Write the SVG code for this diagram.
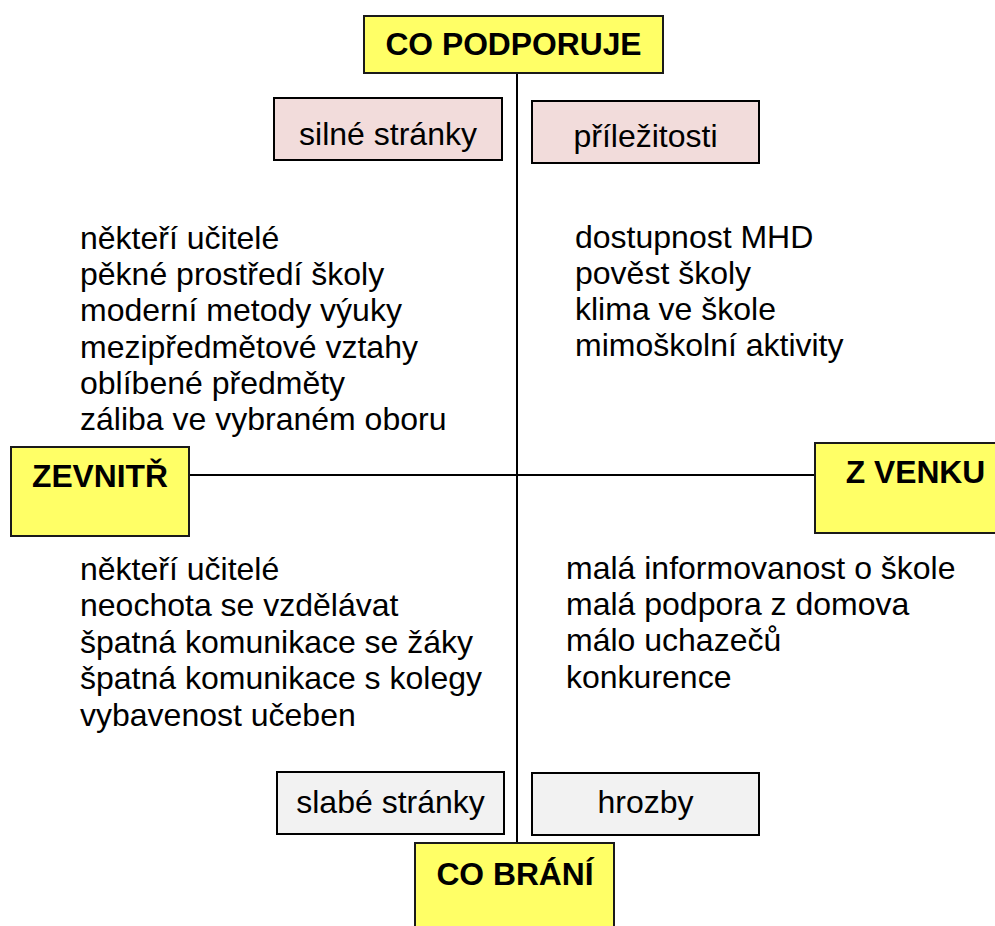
<svg xmlns="http://www.w3.org/2000/svg" width="995" height="926" viewBox="0 0 995 926">
  <style>
    .axis { stroke: #000; stroke-width: 2; fill: none; }
    .head rect { fill: #FFFF66; stroke: #1a1a1a; stroke-width: 2; }
    .head text { font-family: "Liberation Sans", Arial, sans-serif; font-weight: bold; font-size: 31.8px; fill: #000; text-anchor: middle; }
    .pos rect { fill: #F2DCDB; stroke: #000; stroke-width: 2; }
    .neg rect { fill: #F2F2F2; stroke: #000; stroke-width: 2; }
    .tag text { font-family: "Liberation Sans", Arial, sans-serif; font-size: 32px; fill: #000; text-anchor: middle; }
    .list text { font-family: "Liberation Sans", Arial, sans-serif; font-size: 32px; fill: #000; }
  </style>
  <rect width="995" height="926" fill="#fff"/>

  <!-- axes -->
  <g id="connectors">
    <line class="axis" x1="517" y1="73" x2="517" y2="843"/>
    <line class="axis" x1="189" y1="475" x2="815" y2="475"/>
  </g>

  <!-- axis headings -->
  <g id="co-podporuje" class="head">
    <rect x="364" y="16" width="299" height="57"/>
    <text x="513.5" y="55">CO PODPORUJE</text>
  </g>
  <g id="zevnitr" class="head">
    <rect x="11" y="447" width="178" height="89"/>
    <text x="100" y="487">ZEVNITŘ</text>
  </g>
  <g id="z-venku" class="head">
    <rect x="815" y="443" width="200" height="90"/>
    <text x="915.5" y="483">Z VENKU</text>
  </g>
  <g id="co-brani" class="head">
    <rect x="415" y="843" width="199" height="100"/>
    <text x="515" y="885">CO BRÁNÍ</text>
  </g>

  <!-- quadrant labels -->
  <g id="silne-stranky" class="tag pos">
    <rect x="274" y="98" width="228" height="62"/>
    <text x="388" y="145">silné stránky</text>
  </g>
  <g id="prilezitosti" class="tag pos">
    <rect x="532" y="101" width="227" height="62"/>
    <text x="645.5" y="147">příležitosti</text>
  </g>
  <g id="slabe-stranky" class="tag neg">
    <rect x="277" y="772" width="227" height="62"/>
    <text x="390.5" y="813">slabé stránky</text>
  </g>
  <g id="hrozby" class="tag neg">
    <rect x="532" y="773" width="227" height="62"/>
    <text x="645.5" y="813">hrozby</text>
  </g>

  <!-- quadrant contents -->
  <g id="strengths-list" class="list">
    <text x="80" y="249">někteří učitelé</text>
    <text x="80" y="285">pěkné prostředí školy</text>
    <text x="80" y="321">moderní metody výuky</text>
    <text x="80" y="358">mezipředmětové vztahy</text>
    <text x="80" y="394">oblíbené předměty</text>
    <text x="80" y="430">záliba ve vybraném oboru</text>
  </g>
  <g id="opportunities-list" class="list">
    <text x="575" y="248">dostupnost MHD</text>
    <text x="575" y="284">pověst školy</text>
    <text x="575" y="320">klima ve škole</text>
    <text x="575" y="356">mimoškolní aktivity</text>
  </g>
  <g id="weaknesses-list" class="list">
    <text x="80" y="580">někteří učitelé</text>
    <text x="80" y="616">neochota se vzdělávat</text>
    <text x="80" y="653">špatná komunikace se žáky</text>
    <text x="80" y="689">špatná komunikace s kolegy</text>
    <text x="80" y="726">vybavenost učeben</text>
  </g>
  <g id="threats-list" class="list">
    <text x="566" y="579">malá informovanost o škole</text>
    <text x="566" y="615">malá podpora z domova</text>
    <text x="566" y="651">málo uchazečů</text>
    <text x="566" y="688">konkurence</text>
  </g>
</svg>
